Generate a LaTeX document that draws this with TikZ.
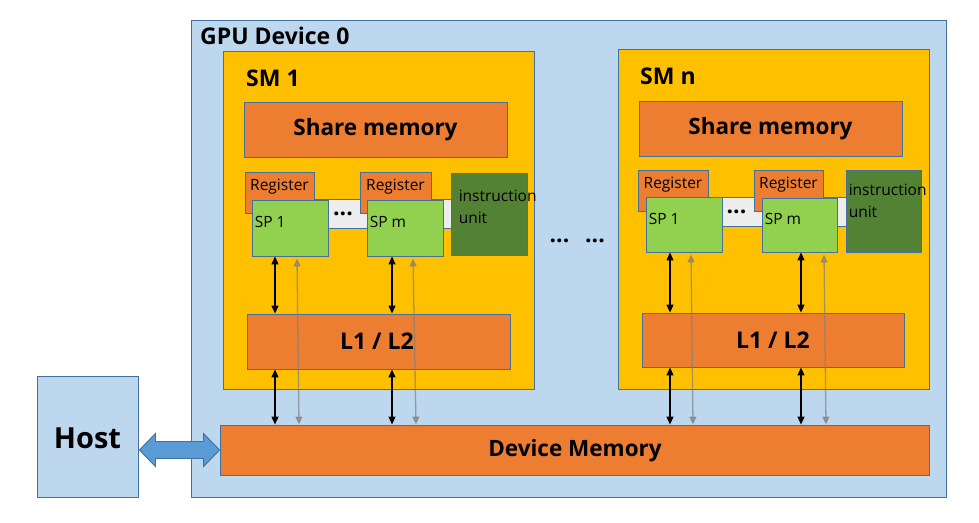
\documentclass[tikz,border=0pt]{standalone}
\usepackage{fontspec}
\setmainfont{Open Sans}
\usetikzlibrary{arrows.meta,calc}
\definecolor{gpublue}{HTML}{BDD7EE}
\definecolor{bord}{HTML}{41719C}
\definecolor{smyellow}{HTML}{FFC000}
\definecolor{orng}{HTML}{ED7D31}
\definecolor{spgreen}{HTML}{92D050}
\definecolor{iugreen}{HTML}{548235}
\definecolor{barg}{HTML}{EDEDED}
\definecolor{arrblue}{HTML}{5B9BD5}
\tikzset{
  bx/.style={draw=bord, line width=0.9pt, inner sep=0pt},
  bigt/.style={font=\fontsize{22.5}{26}\selectfont\bfseries},
  titlet/.style={anchor=west, inner sep=0pt, font=\fontsize{23}{27}\selectfont\bfseries},
  smallt/.style={font=\fontsize{15.5}{22}\selectfont, inner sep=0pt},
  dotst/.style={anchor=base, inner sep=0pt, font=\fontsize{23}{25}\selectfont\bfseries},
  blk/.style={line width=1.1pt, {Triangle[width=7pt,length=8pt]}-{Triangle[width=7pt,length=8pt]}},
  gry/.style={line width=1.3pt, draw=gray, draw opacity=0.7, fill opacity=0.7, {Triangle[width=7pt,length=8pt,fill=gray]}-{Triangle[width=7pt,length=8pt,fill=gray]}},
}
\begin{document}
\begin{tikzpicture}[x=1pt,y=-1pt]
\useasboundingbox (0,0) rectangle (979,522);
% GPU device
\node[bx, fill=gpublue, minimum width=755, minimum height=477] (gpu) at (568.5,258.5) {};
\node[titlet] (gpul) at (200,36) {GPU Device 0};
% Host
\node[bx, fill=gpublue, minimum width=101, minimum height=121] (host) at (87.5,436.5) {};
\node[font=\fontsize{29}{33}\selectfont\bfseries] at (87.5,438) {Host};
% Device memory
\node[bx, fill=orng, minimum width=709, minimum height=50] (dm) at (574.5,450) {};
\node[bigt] at (575,451) {Device Memory};

% ---------- SM 1 ----------
\node[bx, fill=smyellow, minimum width=311, minimum height=338] (sm1) at (378.5,220) {};
\node[titlet] at (246,78) {SM 1};
\node[bx, fill=orng, minimum width=263, minimum height=55] (sh1) at (375.5,129.5) {};
\node[bigt] at (sh1) {Share memory};
\node[bx, fill=barg, minimum width=165, minimum height=29] (bar1) at (372.5,213.5) {};
\node[bx, fill=orng, minimum width=69, minimum height=41] (r1a) at (279.5,192.5) {};
\node[smallt] at ($(r1a.north)+(0,15)$) {Register};
\node[bx, fill=spgreen, minimum width=76, minimum height=56] (sp1a) at (290,228) {};
\node[smallt, anchor=west] at ($(sp1a.west)+(3,-6)$) {SP 1};
\node[bx, fill=orng, minimum width=71, minimum height=41] (r1b) at (395.5,192.5) {};
\node[smallt] at ($(r1b.north)+(0,15)$) {Register};
\node[bx, fill=spgreen, minimum width=76, minimum height=56] (sp1b) at (405,228) {};
\node[smallt, anchor=west] at ($(sp1b.west)+(3,-6)$) {SP m};
\node[bx, fill=iugreen, minimum width=76, minimum height=82] (iu1) at (489,214) {};
\node[smallt, anchor=north west, align=left] at ($(iu1.north west)+(8,17)$) {instruction\\unit};
\node[dotst] at (343,215) {...};
\node[bx, fill=orng, minimum width=263, minimum height=55] (l1) at (378.5,341.5) {};
\node[bigt, font=\fontsize{23}{26}\selectfont\bfseries] at (377,341) {L1 / L2};

% ---------- SM n ----------
\node[bx, fill=smyellow, minimum width=311, minimum height=340] (smn) at (773.5,219) {};
\node[titlet] at (640,76) {SM n};
\node[bx, fill=orng, minimum width=263, minimum height=55] (shn) at (770.5,128.5) {};
\node[bigt] at (shn) {Share memory};
\node[bx, fill=barg, minimum width=160, minimum height=29] (barn) at (770,211.5) {};
\node[bx, fill=orng, minimum width=70, minimum height=41] (rna) at (673,190.5) {};
\node[smallt] at ($(rna.north)+(0,15)$) {Register};
\node[bx, fill=spgreen, minimum width=76, minimum height=55] (spna) at (684,224.5) {};
\node[smallt, anchor=west] at ($(spna.west)+(3,-6)$) {SP 1};
\node[bx, fill=orng, minimum width=69, minimum height=41] (rnb) at (788.5,190.5) {};
\node[smallt] at ($(rnb.north)+(0,15)$) {Register};
\node[bx, fill=spgreen, minimum width=75, minimum height=54] (spnb) at (799.5,225) {};
\node[smallt, anchor=west] at ($(spnb.west)+(3,-6)$) {SP m};
\node[bx, fill=iugreen, minimum width=75, minimum height=82] (iun) at (883.5,211) {};
\node[smallt, anchor=north west, align=left] at ($(iun.north west)+(3,14)$) {instruction\\unit};
\node[dotst] at (736.5,213) {...};
\node[bx, fill=orng, minimum width=262, minimum height=54] (ln) at (773,340) {};
\node[bigt, font=\fontsize{23}{26}\selectfont\bfseries] at (773,340) {L1 / L2};

% middle dots
\node[dotst] at (559.5,242) {...};
\node[dotst] at (595,242) {...};

% ---------- arrows ----------
\coordinate (k1) at (275,0);
\coordinate (k2) at (392,0);
\coordinate (k3) at (670,0);
\coordinate (k4) at (801,0);
\draw[blk] (k1 |- sp1a.south) -- (k1 |- l1.north);
\draw[blk] (k1 |- l1.south) -- (k1 |- dm.north);
\draw[blk] (k2 |- sp1b.south) -- (k2 |- l1.north);
\draw[blk] (k2 |- l1.south) -- (k2 |- dm.north);
\draw[blk] (k3 |- spna.south) -- (k3 |- ln.north);
\draw[blk] (k3 |- ln.south) -- (k3 |- dm.north);
\draw[blk] (k4 |- spnb.south) -- (k4 |- ln.north);
\draw[blk] (k4 |- ln.south) -- (k4 |- dm.north);

\coordinate (g1t) at (297,0); \coordinate (g1b) at (299,0);
\coordinate (g2t) at (413,0); \coordinate (g2b) at (416,0);
\coordinate (g3t) at (691,0); \coordinate (g3b) at (693,0);
\coordinate (g4t) at (824,0); \coordinate (g4b) at (826,0);
\draw[gry] ($(g1t |- sp1a.south)+(0,2)$) -- (g1b |- dm.north);
\draw[gry] ($(g2t |- sp1b.south)+(0,2)$) -- (g2b |- dm.north);
\draw[gry] ($(g3t |- spna.south)+(0,2)$) -- (g3b |- dm.north);
\draw[gry] ($(g4t |- spnb.south)+(0,2)$) -- (g4b |- dm.north);

% host <-> device memory block arrow
\coordinate (aL) at (host.east |- dm.center);
\coordinate (aR) at (dm.west);
\draw[draw=bord, line width=0.9pt, fill=arrblue]
  ($(aL)+(1,0)$) -- ++(16,-16.5) -- ++(0,8) -- ($(aR)+(-16,-8.5)$) -- ++(0,-8)
  -- (aR) -- ++(-16,16.5) -- ++(0,-8) -- ($(aL)+(17,8.5)$) -- ++(0,8) -- cycle;
\end{tikzpicture}
\end{document}
